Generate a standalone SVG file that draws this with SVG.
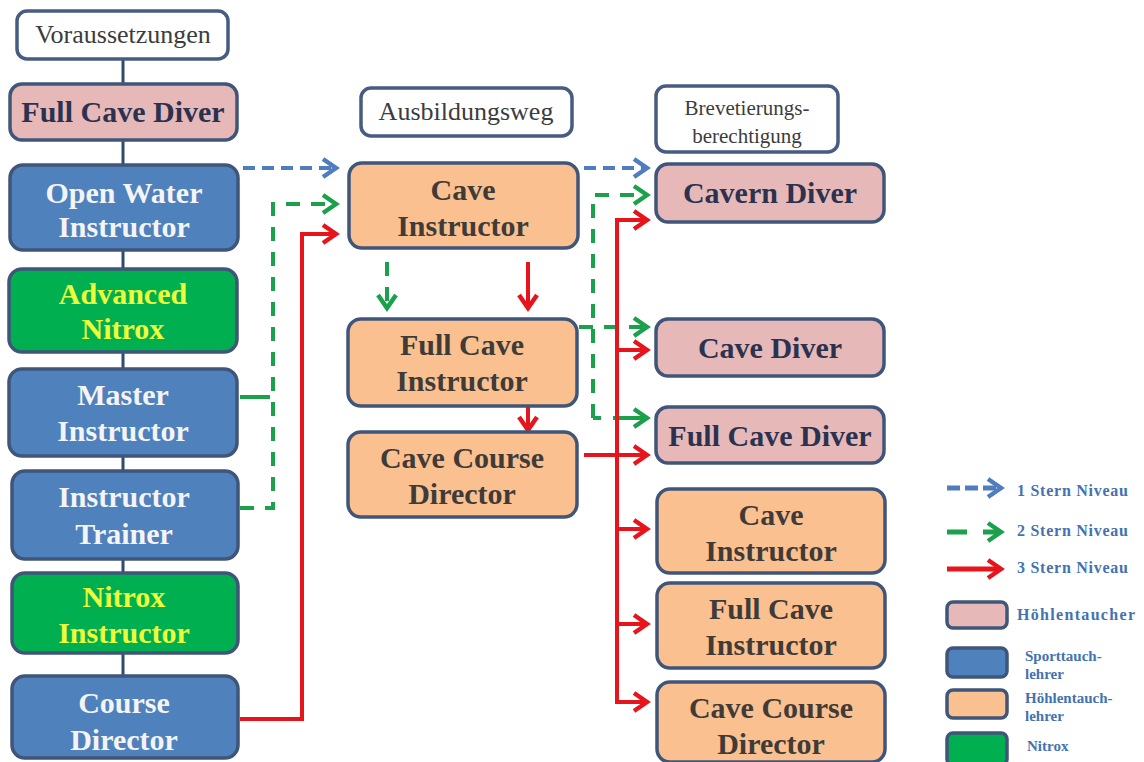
<svg xmlns="http://www.w3.org/2000/svg" width="1144" height="762" viewBox="0 0 1144 762">
<style>
  .box{stroke:#40557A;stroke-width:3.5}
  .hdr{fill:#FFFFFF;stroke:#475C80;stroke-width:3.5}
  .pink{fill:#E6B9B8}
  .blue{fill:#4F81BD}
  .green{fill:#00B050}
  .orange{fill:#FAC090}
  text{font-family:"Liberation Serif","DejaVu Serif",serif;text-anchor:middle}
  .t{font-size:30px;font-weight:bold}
  .tp{fill:#2B3250}
  .tb{fill:#F4F4F4}
  .tg{fill:#EEFF3A}
  .to{fill:#3F3B38}
  .th{font-size:26px;fill:#3C3C3C}
  .th2{font-size:21px;fill:#3C3C3C}
  .lg{font-size:16px;font-weight:bold;fill:#4472B0;text-anchor:start}
  .lg2{font-size:15px}
  .cb{fill:none;stroke:#4F7DBE;stroke-width:4;stroke-dasharray:12 7}
  .cg{fill:none;stroke:#1BA04B;stroke-width:4;stroke-dasharray:14 11}
  .cr{fill:none;stroke:#E8141C;stroke-width:4}
  .spine{fill:none;stroke:#2F4B6E;stroke-width:3}
</style>
<defs>
  <marker id="ab" viewBox="0 0 20 22" refX="16" refY="11" markerWidth="20" markerHeight="22" markerUnits="userSpaceOnUse" orient="auto">
    <path d="M3,2 L16,11 L3,20" fill="none" stroke="#4F7DBE" stroke-width="4.5" stroke-dasharray="none"/>
  </marker>
  <marker id="ag" viewBox="0 0 20 22" refX="16" refY="11" markerWidth="20" markerHeight="22" markerUnits="userSpaceOnUse" orient="auto">
    <path d="M3,2 L16,11 L3,20" fill="none" stroke="#1BA04B" stroke-width="4.5" stroke-dasharray="none"/>
  </marker>
  <marker id="ar" viewBox="0 0 20 22" refX="16" refY="11" markerWidth="20" markerHeight="22" markerUnits="userSpaceOnUse" orient="auto">
    <path d="M3,2 L16,11 L3,20" fill="none" stroke="#E8141C" stroke-width="4.5" stroke-dasharray="none"/>
  </marker>
</defs>
<rect width="1144" height="762" fill="#FFFFFF"/>

<g id="connectors">
  <path class="spine" d="M123,59 V690"/>
  <path class="cb" d="M243,168 H336" marker-end="url(#ab)"/>
  <path class="cb" d="M584,168 H647" marker-end="url(#ab)"/>
  <path class="cg" d="M240,397 H270" style="stroke-dasharray:30 100"/>
  <path class="cg" d="M240,508 H273 V204 H336" marker-end="url(#ag)"/>
  <path class="cr" d="M240,719 H302 V234 H336" marker-end="url(#ar)"/>
  <path class="cg" d="M387,262 V308" marker-end="url(#ag)"/>
  <path class="cr" d="M528,262 V308" marker-end="url(#ar)"/>
  <path class="cr" d="M528,407 V430" marker-end="url(#ar)"/>
  <path class="cg" d="M593,418 V195 H647" marker-end="url(#ag)"/>
  <path class="cg" d="M593,418 H647" style="stroke-dasharray:8 12 30 0" marker-end="url(#ag)"/>
  <path class="cg" d="M579,327 H647" marker-end="url(#ag)"/>
  <path class="cr" d="M617,702 V220 H647" marker-end="url(#ar)"/>
  <path class="cr" d="M615,702 H647" marker-end="url(#ar)"/>
  <path class="cr" d="M617,350 H647" marker-end="url(#ar)"/>
  <path class="cr" d="M617,529 H647" marker-end="url(#ar)"/>
  <path class="cr" d="M617,624 H647" marker-end="url(#ar)"/>
  <path class="cr" d="M584,455 H647" marker-end="url(#ar)"/>
</g>

<g id="n-voraussetzungen"><rect class="hdr" x="17" y="11" width="211" height="48" rx="10"/><text class="th" x="123" y="43">Voraussetzungen</text></g>
<g id="n-l-fullcavediver"><rect class="box pink" x="10" y="84" width="227" height="56" rx="12"/><text class="t tp" x="123" y="122">Full Cave Diver</text></g>
<g id="n-l-openwater"><rect class="box blue" x="10" y="165" width="228" height="85" rx="13"/><text class="t tb" x="124" y="203">Open Water</text><text class="t tb" x="124" y="237">Instructor</text></g>
<g id="n-l-advnitrox"><rect class="box green" x="9" y="269" width="228" height="83" rx="13"/><text class="t tg" x="123" y="304">Advanced</text><text class="t tg" x="123" y="339">Nitrox</text></g>
<g id="n-l-master"><rect class="box blue" x="9" y="369" width="228" height="87" rx="13"/><text class="t tb" x="123" y="405">Master</text><text class="t tb" x="123" y="441">Instructor</text></g>
<g id="n-l-trainer"><rect class="box blue" x="12" y="471" width="226" height="88" rx="13"/><text class="t tb" x="124" y="507">Instructor</text><text class="t tb" x="124" y="544">Trainer</text></g>
<g id="n-l-nitroxinstr"><rect class="box green" x="12" y="573" width="226" height="80" rx="13"/><text class="t tg" x="124" y="607">Nitrox</text><text class="t tg" x="124" y="643">Instructor</text></g>
<g id="n-l-coursedir"><rect class="box blue" x="12" y="676" width="226" height="82" rx="13"/><text class="t tb" x="124" y="713">Course</text><text class="t tb" x="124" y="750">Director</text></g>

<g id="n-ausbildungsweg"><rect class="hdr" x="361" y="88" width="211" height="48" rx="10"/><text class="th" x="466" y="120">Ausbildungsweg</text></g>
<g id="n-m-caveinstr"><rect class="box orange" x="349" y="163" width="229" height="85" rx="13"/><text class="t to" x="463" y="200">Cave</text><text class="t to" x="463" y="236">Instructor</text></g>
<g id="n-m-fullcaveinstr"><rect class="box orange" x="348" y="319" width="229" height="87" rx="13"/><text class="t to" x="462" y="355">Full Cave</text><text class="t to" x="462" y="391">Instructor</text></g>
<g id="n-m-cavecoursedir"><rect class="box orange" x="348" y="432" width="229" height="85" rx="13"/><text class="t to" x="462" y="468">Cave Course</text><text class="t to" x="462" y="504">Director</text></g>

<g id="n-brevet"><rect class="hdr" x="656" y="86" width="182" height="66" rx="10"/><text class="th2" x="747" y="115">Brevetierungs-</text><text class="th2" x="747" y="143">berechtigung</text></g>
<g id="n-r-caverndiver"><rect class="box pink" x="656" y="164" width="228" height="58" rx="12"/><text class="t tp" x="770" y="203">Cavern Diver</text></g>
<g id="n-r-cavediver"><rect class="box pink" x="656" y="319" width="228" height="57" rx="12"/><text class="t tp" x="770" y="358">Cave Diver</text></g>
<g id="n-r-fullcavediver"><rect class="box pink" x="656" y="407" width="228" height="56" rx="12"/><text class="t tp" x="770" y="446">Full Cave Diver</text></g>
<g id="n-r-caveinstr"><rect class="box orange" x="657" y="489" width="228" height="84" rx="13"/><text class="t to" x="771" y="525">Cave</text><text class="t to" x="771" y="561">Instructor</text></g>
<g id="n-r-fullcaveinstr"><rect class="box orange" x="657" y="583" width="228" height="85" rx="13"/><text class="t to" x="771" y="619">Full Cave</text><text class="t to" x="771" y="655">Instructor</text></g>
<g id="n-r-cavecoursedir"><rect class="box orange" x="657" y="682" width="228" height="80" rx="13"/><text class="t to" x="771" y="718">Cave Course</text><text class="t to" x="771" y="754">Director</text></g>

<g id="legend">
  <path class="cb" d="M947,488 H1001" style="stroke-width:5;stroke-dasharray:13 5" marker-end="url(#ab)"/>
  <text class="lg" x="1017" y="496" textLength="111" lengthAdjust="spacing">1 Stern Niveau</text>
  <path class="cg" d="M947,532 H1001" style="stroke-width:5;stroke-dasharray:20 16" marker-end="url(#ag)"/>
  <text class="lg" x="1017" y="536" textLength="111" lengthAdjust="spacing">2 Stern Niveau</text>
  <path class="cr" d="M947,569 H1001" style="stroke-width:5" marker-end="url(#ar)"/>
  <text class="lg" x="1017" y="573" textLength="111" lengthAdjust="spacing">3 Stern Niveau</text>
  <rect class="box pink" x="947" y="602" width="60" height="26" rx="6"/>
  <text class="lg" x="1017" y="620" textLength="118" lengthAdjust="spacing">Höhlentaucher</text>
  <rect class="box blue" x="947" y="648" width="60" height="29" rx="6"/>
  <text class="lg lg2" x="1025" y="661">Sporttauch-</text>
  <text class="lg lg2" x="1025" y="679">lehrer</text>
  <rect class="box orange" x="947" y="690" width="60" height="28" rx="6"/>
  <text class="lg lg2" x="1025" y="703">Höhlentauch-</text>
  <text class="lg lg2" x="1025" y="721">lehrer</text>
  <rect class="box green" x="947" y="733" width="60" height="32" rx="6"/>
  <text class="lg lg2" x="1027" y="751">Nitrox</text>
</g>
</svg>
